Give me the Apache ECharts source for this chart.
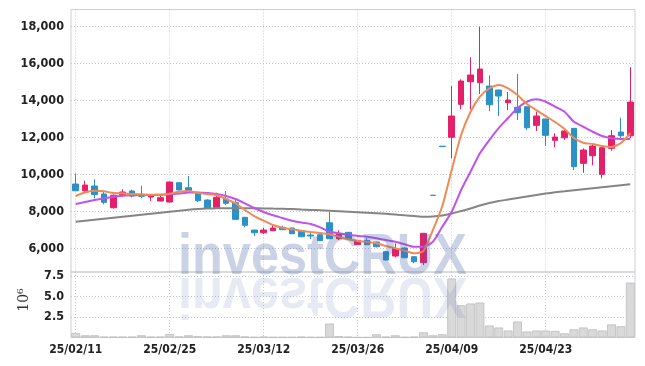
<!DOCTYPE html>
<html><head><meta charset="utf-8">
<script src="https://cdn.jsdelivr.net/npm/echarts@6/dist/echarts.min.js"></script>
<style>html,body{margin:0;padding:0;background:#fff}#c{width:645px;height:366px}</style>
</head><body><div id="c"></div>
<script>
const dates = ['25/02/11','25/02/12','25/02/13','25/02/14','25/02/17','25/02/18','25/02/19','25/02/20','25/02/21','25/02/24',
'25/02/25','25/02/26','25/02/27','25/02/28','25/03/04','25/03/05','25/03/06','25/03/07','25/03/10','25/03/11',
'25/03/12','25/03/13','25/03/14','25/03/17','25/03/18','25/03/19','25/03/20','25/03/21','25/03/24','25/03/25',
'25/03/26','25/03/27','25/03/28','25/03/31','25/04/01','25/04/02','25/04/03','25/04/04','25/04/07','25/04/08',
'25/04/09','25/04/10','25/04/11','25/04/14','25/04/15','25/04/16','25/04/17','25/04/18','25/04/21','25/04/22',
'25/04/23','25/04/24','25/04/25','25/04/28','25/04/29','25/04/30','25/05/02','25/05/07','25/05/08','25/05/09'];
const opens = [9475,9113,9367,8935,8194,8897,9097,8881,8773,8557,8503,9546,9276,8973,8611,8216,8665,8465,7676,6989,
6843,6951,7135,7097,6951,6719,6735,7384,6519,6865,6195,6432,6341,5816,5584,6016,5546,5222,8870,11520,
12000,13783,15005,14951,14772,14556,13870,13621,13653,12648,12989,11837,11978,12486,10594,11005,10000,11405,12286,12086];
const closes = [9110,9421,8908,8486,8870,9043,8827,8811,8843,8735,9583,9151,9124,8573,8162,8757,8432,7567,7243,6843,
6989,7097,7005,6789,6627,6665,6411,6519,6811,6503,6432,6195,6086,5368,5989,5492,5276,6811,8860,11505,
13151,15043,15367,15691,13761,14232,14016,13329,12518,13151,12108,12016,12340,10411,11313,11529,11437,12086,12086,13908];
const lows = [9090,8973,8703,8378,8150,8789,8757,8703,8557,8540,8480,9140,9097,8503,8130,8200,8340,7540,7135,6665,
6773,6930,6990,6770,6610,6503,6390,6500,6449,6480,6180,6180,6050,5350,5514,5470,5189,5097,8860,11505,
10865,13513,13513,14340,13421,13151,13475,12935,12394,12340,11529,11459,11854,10232,10086,10486,9783,11275,11854,11962];
const highs = [10050,9654,9729,9059,8900,9189,9167,9384,8935,8865,9600,9560,9908,9000,8650,9005,9097,8648,7700,7000,
7113,7276,7221,7120,6970,6843,6750,7978,6973,6880,6460,6573,6360,5830,6259,6050,5560,6830,8870,11520,
14772,15135,16324,17977,15351,14570,14448,15421,13670,13383,13000,12216,12486,12500,11405,11675,11583,12394,13056,15791];
const ma5 = [8827,9027,9113,9081,8989,8973,8935,8919,8897,8897,8951,9059,9097,9005,8935,8865,8665,8432,8070,7746,
7492,7259,7113,7027,6951,6881,6827,6757,6627,6486,6395,6341,6270,6124,6000,5870,5730,5854,6989,8286,
10232,12124,13367,14194,14648,14826,14648,14286,13800,13475,13151,12827,12448,11962,11708,11638,11529,11475,11691,12232];
const ma10 = [8394,8503,8611,8703,8789,8843,8865,8881,8881,8897,8919,8962,9016,9016,8989,8935,8827,8665,8432,8178,
7962,7784,7638,7492,7394,7313,7135,6897,6811,6735,6665,6627,6541,6449,6357,6216,6086,6086,6357,7167,
7978,9151,10140,11135,11854,12502,13043,13583,13924,14053,13924,13653,13383,12843,12572,12302,12070,11946,11908,11908];
const ma60 = [7438,7492,7546,7600,7654,7708,7762,7816,7870,7924,7978,8032,8086,8124,8151,8162,8167,8167,8167,8162,
8157,8146,8135,8119,8097,8076,8054,8027,8000,7973,7946,7919,7892,7865,7827,7784,7746,7708,7719,7773,
7881,8016,8151,8313,8448,8557,8638,8719,8800,8881,8962,9027,9081,9135,9189,9243,9297,9351,9405,9459];
const volumes = [550000,270000,270000,100000,100000,100000,100000,270000,100000,100000,420000,120000,270000,150000,120000,120000,270000,270000,120000,50000,
100000,50000,50000,50000,100000,50000,50000,1700000,160000,100000,30000,30000,400000,100000,270000,50000,100000,630000,270000,400000,
7200000,3940000,4150000,4270000,1460000,1220000,850000,1950000,730000,850000,850000,800000,500000,1000000,1220000,1000000,850000,1600000,1370000,6700000];
const priceTicks = [6000,8000,10000,12000,14000,16000,18000];

const chart = echarts.init(document.getElementById('c'), null, {renderer:'canvas'});
const candleData = dates.map((d,i)=>[opens[i],closes[i],lows[i],highs[i]]);
const labelFont = {color:'#222', fontFamily:"'DejaVu Sans Condensed','Roboto Condensed',Roboto", fontSize:12.5, fontWeight:'bold'};
const lineSt = {type:[1,2], color:'#c4c6da', width:1};
const UP='#e5206a', DOWN='#2b91c6';
chart.setOption({
  animation:false,
  backgroundColor:'#fff',
  grid:[
    {left:71,right:10,top:9.5,height:262.5,show:true,borderColor:'#cfcfcf',borderWidth:1},
    {left:71,right:10,top:272,height:65.5,show:true,borderColor:'#cfcfcf',borderWidth:1}
  ],
  xAxis:[
    {type:'category',data:dates,gridIndex:0,boundaryGap:true,axisLine:{show:false},axisTick:{show:false},axisLabel:{show:false},
     splitLine:{show:true,interval:9,alignWithLabel:true,lineStyle:lineSt}},
    {type:'category',data:dates,gridIndex:1,boundaryGap:true,axisLine:{show:false},axisTick:{show:false,alignWithLabel:true},
     axisLabel:Object.assign({interval:9,margin:6},labelFont,{fontSize:12}),
     splitLine:{show:true,interval:9,alignWithLabel:true,lineStyle:lineSt}}
  ],
  yAxis:[
    {type:'value',gridIndex:0,min:4720,max:18910,axisLine:{show:false},
     axisTick:{show:false,customValues:priceTicks},
     axisLabel:Object.assign({customValues:priceTicks,margin:7,formatter:v=>v.toLocaleString('en-US')},labelFont),
     splitLine:{show:true,lineStyle:lineSt}},
    {type:'value',gridIndex:1,min:0,max:8000000,interval:2500000,axisLine:{show:false},
     axisTick:{show:false},
     axisLabel:Object.assign({margin:7,showMinLabel:false,showMaxLabel:false,formatter:v=>(v/1e6).toFixed(1)},labelFont),
     splitLine:{show:true,showMinLine:false,showMaxLine:false,lineStyle:lineSt}}
  ],
  series:[
    {type:'candlestick',data:candleData,xAxisIndex:0,yAxisIndex:0,barWidth:6,
     itemStyle:{color:UP,color0:DOWN,borderColor:UP,borderColor0:DOWN,borderWidth:1}},
    {type:'line',data:ma60,xAxisIndex:0,yAxisIndex:0,symbol:'none',smooth:0.2,lineStyle:{color:'#858585',width:2}},
    {type:'line',data:ma10,xAxisIndex:0,yAxisIndex:0,symbol:'none',smooth:0.2,lineStyle:{color:'#c152ee',width:2}},
    {type:'line',data:ma5,xAxisIndex:0,yAxisIndex:0,symbol:'none',smooth:0.2,lineStyle:{color:'#ef8a57',width:2}},
    {type:'bar',data:volumes,xAxisIndex:1,yAxisIndex:1,barCategoryGap:'6%',
     itemStyle:{color:'#d9d9d9',borderColor:'#bdbdbd',borderWidth:0.8}}
  ],
  graphic:[
    {type:'text',x:178,y:287,z:100,style:{text:'investCRUX',font:'bold 58px "Liberation Sans"',fill:'rgba(70,95,165,0.28)',verticalAlign:'bottom'},scaleX:0.87},
    {type:'text',x:178,y:265,z:99,scaleX:0.87,scaleY:-1,style:{text:'investCRUX',font:'bold 58px "Liberation Sans"',fill:'rgba(70,95,165,0.13)',verticalAlign:'bottom'}},
    {type:'text',x:24,y:300,rotation:Math.PI/2,style:{text:'10⁶',font:'14px "DejaVu Serif"',fill:'#333',align:'center',verticalAlign:'middle'}}
  ]
});
</script></body></html>
